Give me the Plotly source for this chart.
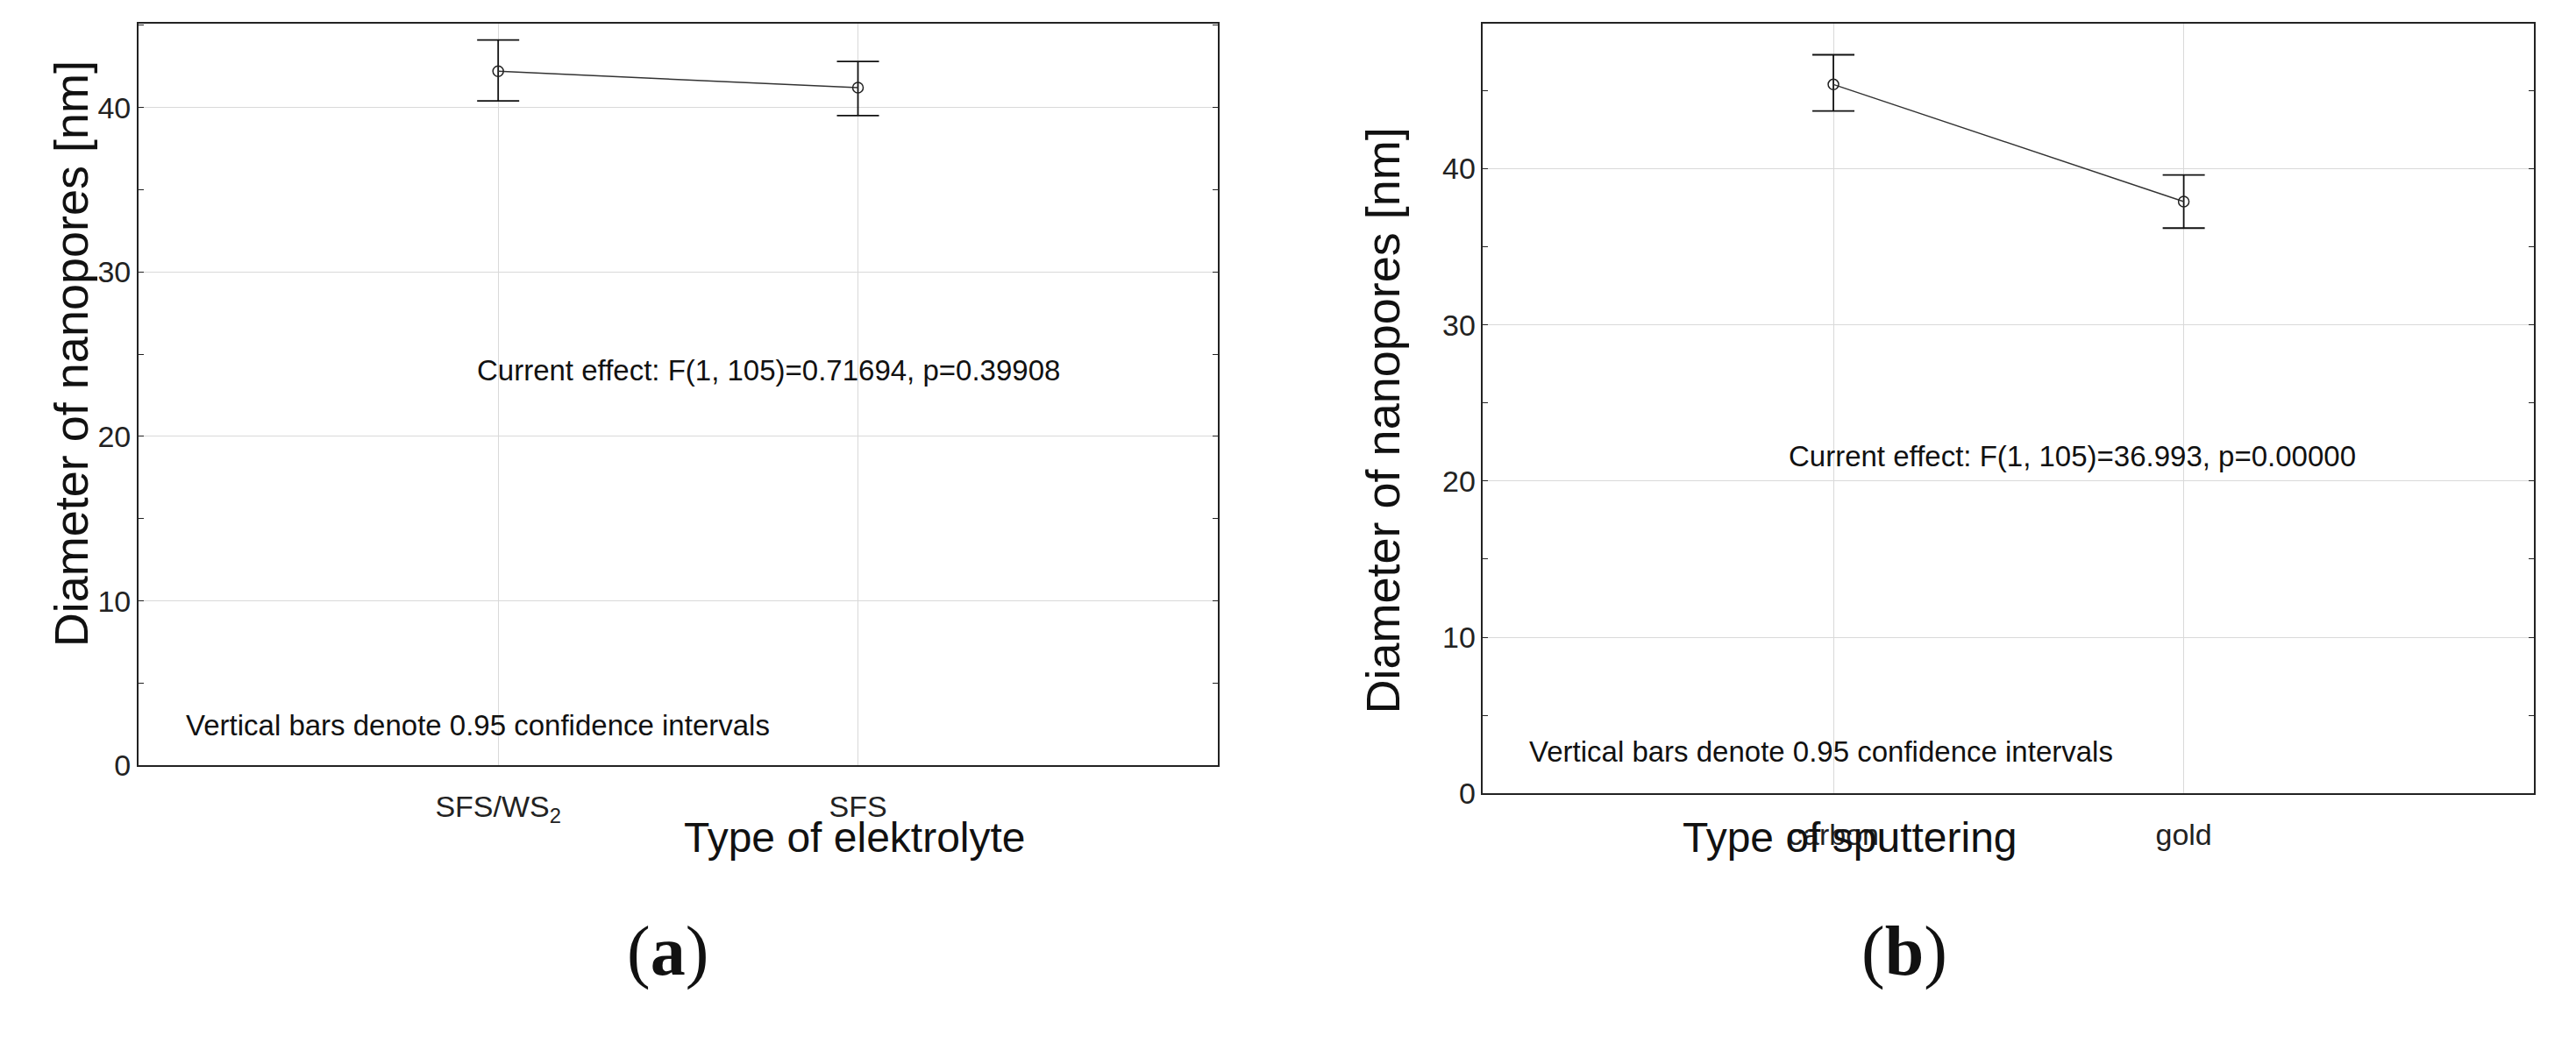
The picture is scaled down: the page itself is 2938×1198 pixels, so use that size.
import plotly.graph_objects as go

cats_a = ["SFS/WS<sub>2</sub>", "SFS"]
mean_a = [42.2, 41.2]
lo_a = [40.4, 39.5]
hi_a = [44.1, 42.8]

cats_b = ["carbon", "gold"]
mean_b = [45.4, 37.9]
lo_b = [43.7, 36.2]
hi_b = [47.3, 39.6]

yticks = [0, 10, 20, 30, 40]
F = "Liberation Sans, Arial, sans-serif"

fig = go.Figure()
def add(cats, m, lo, hi, xa, ya):
    xs = [1, 2]
    fig.add_trace(go.Scatter(
        x=xs, y=m, mode="lines+markers", xaxis=xa, yaxis=ya,
        line=dict(color="#333", width=1.5),
        marker=dict(symbol="circle-open", size=12, color="#222", line=dict(width=1.5)),
        error_y=dict(type="data", symmetric=False,
                     array=[h - v for h, v in zip(hi, m)],
                     arrayminus=[v - l for v, l in zip(m, lo)],
                     color="#111", thickness=1.8, width=24),
        showlegend=False))

add(cats_a, mean_a, lo_a, hi_a, "x", "y")
add(cats_b, mean_b, lo_b, hi_b, "x2", "y2")

ax = dict(range=[0, 3], tickvals=[1, 2], showgrid=True, gridcolor="#d9d9d9",
          showline=True, linecolor="#222", linewidth=1.5, mirror=True, zeroline=False,
          ticks="", ticklabelstandoff=16, tickfont=dict(family=F, size=34, color="#222"))
ay = dict(tickvals=yticks, showgrid=True, gridcolor="#d9d9d9", showline=True,
          linecolor="#222", linewidth=1.5, mirror="ticks", zeroline=False,
          ticks="inside", ticklen=6, tickcolor="#222",
          minor=dict(dtick=5, ticks="inside", ticklen=6, tickcolor="#222", showgrid=False),
          tickfont=dict(family=F, size=34, color="#222"))

fig.update_layout(
    width=2938, height=1198, margin=dict(l=0, r=0, t=0, b=0),
    plot_bgcolor="white", paper_bgcolor="white",
    xaxis=dict(ax, domain=[0.051, 0.470], ticktext=cats_a),
    yaxis=dict(ay, domain=[0.266, 0.984], range=[0, 45.1]),
    xaxis2=dict(ax, domain=[0.573, 0.981], ticktext=cats_b, anchor="y2"),
    yaxis2=dict(ay, domain=[0.239, 0.984], range=[0, 49.3], anchor="x2"),
)

anns = [
    dict(x=0.936, y=24.0, xref="x", yref="y", text="Current effect: F(1, 105)=0.71694, p=0.39908"),
    dict(x=0.128, y=2.45, xref="x", yref="y", text="Vertical bars denote 0.95 confidence intervals"),
    dict(x=0.867, y=21.6, xref="x2", yref="y2", text="Current effect: F(1, 105)=36.993, p=0.00000"),
    dict(x=0.127, y=2.7, xref="x2", yref="y2", text="Vertical bars denote 0.95 confidence intervals"),
]
for a in anns:
    fig.add_annotation(x=a["x"], y=a["y"], xref=a["xref"], yref=a["yref"], text=a["text"],
                       xanchor="left", showarrow=False,
                       font=dict(family=F, size=33, color="#111"))

# axis titles
for xp, yp, txt in [(0.014, 0.664, "Diameter of nanopores [nm]"), (0.534, 0.6, "Diameter of nanopores [nm]")]:
    fig.add_annotation(x=xp, y=yp, xref="paper", yref="paper", text=txt, textangle=-90,
                       showarrow=False, font=dict(family=F, size=54, color="#111"))
for xp, txt in [(0.262, "Type of elektrolyte"), (0.781, "Type of sputtering")]:
    fig.add_annotation(x=xp, y=0.172, xref="paper", yref="paper", text=txt,
                       showarrow=False, font=dict(family=F, size=48, color="#111"))
for xp, txt in [(0.240, "(<b>a</b>)"), (0.754, "(<b>b</b>)")]:
    fig.add_annotation(x=xp, y=0.047, xref="paper", yref="paper", text=txt,
                       showarrow=False, font=dict(family="Liberation Serif, serif", size=80, color="#111"))

fig.write_html("out.html")
